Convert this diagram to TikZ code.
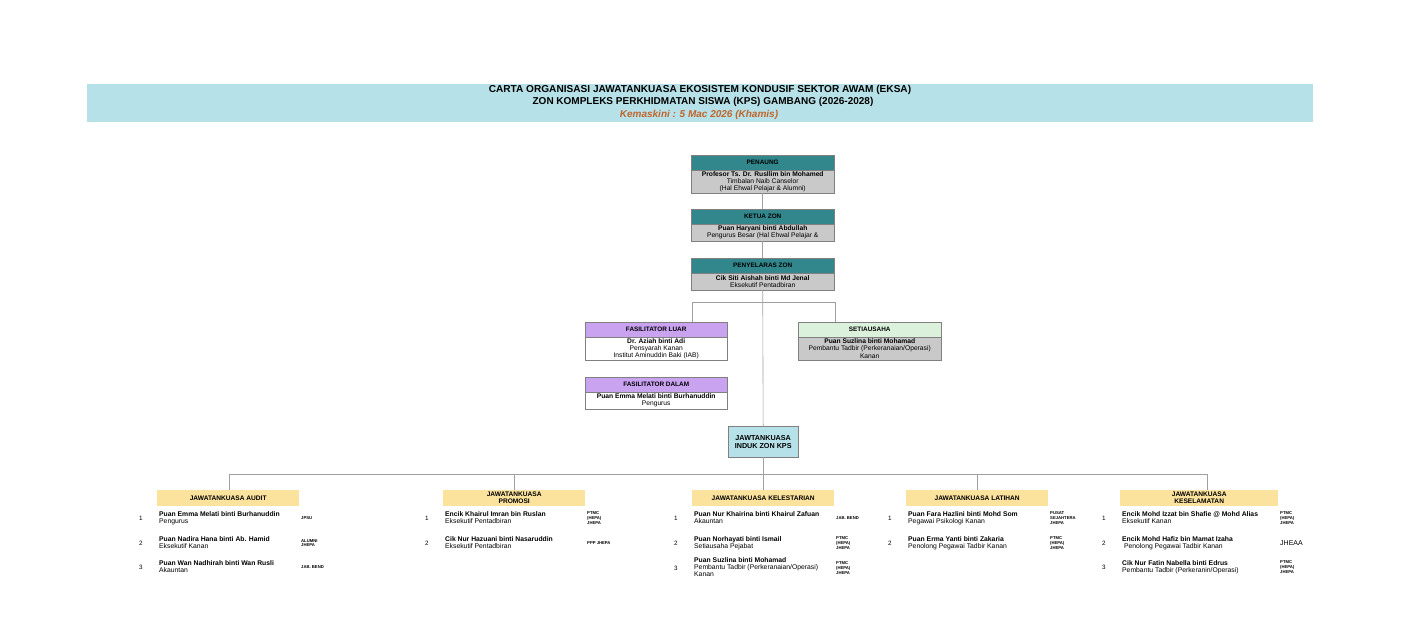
\documentclass[tikz,border=0pt]{standalone}
\usepackage{fontspec}
\setmainfont{Liberation Sans}
\definecolor{titlebg}{HTML}{B7E1E8}
\definecolor{tealh}{HTML}{31878C}
\definecolor{grayb}{HTML}{C9C9C9}
\definecolor{purh}{HTML}{C9A2F0}
\definecolor{greenh}{HTML}{DCF1DC}
\definecolor{yelh}{HTML}{FBE39E}
\definecolor{orangetxt}{HTML}{C0652A}
\definecolor{linec}{HTML}{A0A0A0}
\definecolor{bordc}{HTML}{808080}
\newcommand\fsz[2]{\fontsize{#1}{#2}\selectfont}
\def\tagoff{144}
\newcommand\memrow[7]{%
  \node[numtxt, anchor=west] (#1n) at ({#2-18},{#3+7}) {#4};
  \node[mname, anchor=north west] (#1a) at ({#2+2},#3) {#5\\{\mdseries #6}};
  \node[tagtxt, anchor=west] (#1t) at ({#2+\tagoff},{#3+7}) {#7};
}
\begin{document}
\begin{tikzpicture}[x=1pt,y=-1pt,
  hdr/.style={draw=bordc, line width=0.4pt, minimum width=143pt, minimum height=14.5pt, inner sep=0pt, font=\fsz{6.4}{7}\bfseries, anchor=north west},
  bdy/.style={draw=bordc, line width=0.4pt, minimum width=143pt, inner sep=0pt, align=center, font=\fsz{6.7}{7.1}, anchor=north},
  yhdr/.style={fill=yelh, minimum width=142pt, minimum height=16pt, inner sep=0pt, align=center, font=\fsz{6.6}{7}\bfseries, anchor=north west},
  conn/.style={draw=linec, line width=0.6pt},
  mname/.style={inner sep=0pt, align=left, font=\fsz{6.8}{7.2}\bfseries},
  numtxt/.style={inner sep=0pt, font=\fsz{6.3}{7}},
  tagtxt/.style={inner sep=0pt, align=left, font=\fsz{4.2}{4.6}\bfseries}
]
\useasboundingbox[fill=white] (0,0) rectangle (1428,634);

% title band
\node[fill=titlebg, minimum width=1226pt, minimum height=38pt, inner sep=0pt, anchor=north west] (title) at (87,84) {};
\node[inner sep=0pt, align=center, font=\fsz{10.1}{11}\bfseries] (t1) at (700,90) {CARTA ORGANISASI JAWATANKUASA EKOSISTEM KONDUSIF SEKTOR AWAM (EKSA)};
\node[inner sep=0pt, align=center, font=\fsz{10}{11}\bfseries] (t2) at (703,102) {ZON KOMPLEKS PERKHIDMATAN SISWA (KPS) GAMBANG (2026-2028)};
\node[inner sep=0pt, align=center, font=\fsz{10}{11}\bfseries\itshape, text=orangetxt] (t3) at (699,114.5) {Kemaskini : 5 Mac 2026 (Khamis)};

% penaung
\node[hdr, fill=tealh] (penh) at (691,155) {PENAUNG};
\node[bdy, fill=grayb, minimum height=23pt] (penb) at (penh.south) {{\bfseries Profesor Ts. Dr. Rusllim bin Mohamed}\\Timbalan Naib Canselor\\(Hal Ehwal Pelajar \& Alumni)};

% ketua zon
\node[hdr, fill=tealh] (keth) at (691,209) {KETUA ZON};
\node[bdy, fill=grayb, minimum height=17pt] (ketb) at (keth.south) {{\bfseries Puan Haryani binti Abdullah}\\Pengurus Besar (Hal Ehwal Pelajar \&};

% penyelaras zon
\node[hdr, fill=tealh] (peny) at (691,258) {PENYELARAS ZON};
\node[bdy, fill=grayb, minimum height=17pt] (penyb) at (peny.south) {{\bfseries Cik Siti Aishah binti Md Jenal}\\Eksekutif Pentadbiran};

% fasilitator luar
\node[hdr, fill=purh, minimum width=142pt] (fluh) at (585,322) {FASILITATOR LUAR};
\node[bdy, fill=white, minimum width=142pt, minimum height=23pt] (flub) at (fluh.south) {{\bfseries Dr. Aziah binti Adi}\\Pensyarah Kanan\\Institut Aminuddin Baki (IAB)};

% setiausaha
\node[hdr, fill=greenh] (seth) at (798,322) {SETIAUSAHA};
\node[bdy, fill=grayb, minimum height=23pt] (setb) at (seth.south) {{\bfseries Puan Suzlina binti Mohamad}\\Pembantu Tadbir (Perkeranaian/Operasi)\\Kanan};

% fasilitator dalam
\node[hdr, fill=purh, minimum width=142pt] (fdah) at (585,377) {FASILITATOR DALAM};
\node[bdy, fill=white, minimum width=142pt, minimum height=17pt] (fdab) at (fdah.south) {{\bfseries Puan Emma Melati binti Burhanuddin}\\Pengurus};

% induk
\node[draw=bordc, fill=titlebg, minimum width=70pt, minimum height=31pt, inner sep=0pt, align=center, font=\fsz{7.2}{8.2}\bfseries, anchor=north west] (induk) at (728,426) {JAWTANKUASA\\INDUK ZON KPS};

% connectors top
\draw[conn] (penb.south) -- (keth.north);
\draw[conn] (ketb.south) -- (peny.north);
\draw[conn] (penyb.south) -- (induk.north);
\coordinate (brL) at (692,302);
\coordinate (brR) at (835,302);
\draw[conn] (brL) -- (brR);
\draw[conn] (brL) -- (brL |- fluh.north);
\draw[conn] (brR) -- (brR |- seth.north);

% committee headers
\node[yhdr] (audh) at (157,490) {JAWATANKUASA AUDIT};
\node[yhdr] (proh) at (443,490) {JAWATANKUASA\\PROMOSI};
\node[yhdr] (kelh) at (692,490) {JAWATANKUASA KELESTARIAN};
\node[yhdr] (lath) at (906,490) {JAWATANKUASA LATIHAN};
\node[yhdr, minimum width=158pt] (kesh) at (1120,490) {JAWATANKUASA\\KESELAMATAN};

% bottom connectors
\coordinate (hL) at (229,474);
\coordinate (hR) at (1207,474);
\draw[conn] (induk.south) -- (induk.south |- hL);
\draw[conn] (hL) -- (hR);
\draw[conn] (hL) -- (audh.north -| hL);
\draw[conn] (proh.north |- hL) -- (proh.north);
\draw[conn] (kelh.north |- hL) -- (kelh.north);
\draw[conn] (lath.north |- hL) -- (lath.north);
\draw[conn] (hR) -- (kesh.north -| hR);

% members: audit
\memrow{au1}{157}{511}{1}{Puan Emma Melati binti Burhanuddin}{Pengurus}{JPSU}
\memrow{au2}{157}{536}{2}{Puan Nadira Hana binti Ab. Hamid}{Eksekutif Kanan}{ALUMNI\\JHEPA}
\memrow{au3}{157}{560}{3}{Puan Wan Nadhirah binti Wan Rusli}{Akauntan}{JAB. BEND}

% promosi
\memrow{pr1}{443}{511}{1}{Encik Khairul Imran bin Ruslan}{Eksekutif Pentadbiran}{PTMC\\(HEPA)\\JHEPA}
\memrow{pr2}{443}{536}{2}{Cik Nur Hazuani binti Nasaruddin}{Eksekutif Pentadbiran}{PPP JHEPA}

% kelestarian
\memrow{ke1}{692}{511}{1}{Puan Nur Khairina binti Khairul Zafuan}{Akauntan}{JAB. BEND}
\memrow{ke2}{692}{536}{2}{Puan Norhayati binti Ismail}{Setiausaha Pejabat}{PTMC\\(HEPA)\\JHEPA}
\node[numtxt, anchor=west] (ke3n) at (674,568) {3};
\node[mname, anchor=north west] (ke3a) at (694,557) {Puan Suzlina binti Mohamad\\{\mdseries Pembantu Tadbir (Perkeranaian/Operasi)}\\{\mdseries Kanan}};
\node[tagtxt, anchor=west] (ke3t) at (836,568) {PTMC\\(HEPA)\\JHEPA};

% latihan
\memrow{la1}{906}{511}{1}{Puan Fara Hazlini binti Mohd Som}{Pegawai Psikologi Kanan}{PUSAT\\SEJAHTERA\\JHEPA}
\memrow{la2}{906}{536}{2}{Puan Erma Yanti binti Zakaria}{Penolong Pegawai Tadbir Kanan}{PTMC\\(HEPA)\\JHEPA}

% keselamatan
\def\tagoff{160}
\memrow{ks1}{1120}{511}{1}{Encik Mohd Izzat bin Shafie @ Mohd Alias}{Eksekutif Kanan}{PTMC\\(HEPA)\\JHEPA}
\node[numtxt, anchor=west] (ks2n) at (1102,543) {2};
\node[mname, anchor=north west] (ks2a) at (1122,536) {Encik Mohd Hafiz bin Mamat Izaha\\{\mdseries \ Penolong Pegawai Tadbir Kanan}};
\node[inner sep=0pt, anchor=west, font=\fsz{7}{8}] (ks2t) at (1280,543) {JHEAA};
\memrow{ks3}{1120}{560}{3}{Cik Nur Fatin Nabella binti Edrus}{Pembantu Tadbir (Perkeranin/Operasi)}{PTMC\\(HEPA)\\JHEPA}
\end{tikzpicture}
\end{document}
